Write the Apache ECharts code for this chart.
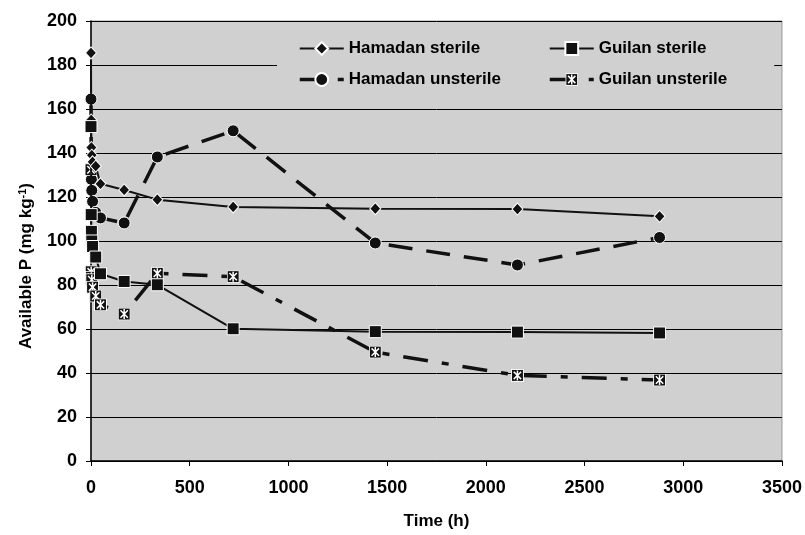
<!DOCTYPE html>
<html>
<head>
<meta charset="utf-8">
<script src="https://cdn.jsdelivr.net/npm/echarts@6/dist/echarts.min.js"></script>
<style>
  html, body { margin: 0; padding: 0; background: #fff; }
  #main { width: 805px; height: 535px; }
</style>
</head>
<body>
<div id="main"></div>
<script>
var times = [0, 1, 2, 4, 8, 24, 48, 168, 336, 720, 1440, 2160, 2880];
var hamadanSterile = [185.5, 155, 142.5, 139, 136, 134, 126, 123.2, 118.8, 115.5, 114.7, 114.5, 111.2];
var hamadanUnsterile = [164.5, 133, 128, 123, 118, 113, 110.5, 108.2, 138.2, 150.1, 99.1, 89.1, 101.6];
var guilanSterile = [152, 112, 104.4, 100, 97.5, 92.7, 85.1, 81.6, 80.1, 60.1, 58.8, 58.6, 58.2];
var guilanUnsterile = [132.4, 86, 83.5, 82.4, 79, 75, 71, 66.8, 85.3, 83.8, 49.5, 38.9, 36.8];
var yTicks = { min: 0, max: 200, interval: 20 };
var xTicks = { min: 0, max: 3500, interval: 500 };

function pairs(ys) {
    return times.map(function (t, i) { return [t, ys[i]]; });
}

// square with a white asterisk, like the Excel marker
var starSvg = '<svg xmlns="http://www.w3.org/2000/svg" width="13" height="13" viewBox="0 0 13 13">' +
    '<rect x="0.5" y="0.5" width="12" height="12" fill="#111" stroke="#fff" stroke-width="1"/>' +
    '<path d="M2.8 2.8 L10.2 10.2 M10.2 2.8 L2.8 10.2 M6.5 1.5 L6.5 11.5" stroke="#fff" stroke-width="1.5"/>' +
    '</svg>';
var starSymbol = 'image://data:image/svg+xml;charset=utf-8,' + encodeURIComponent(starSvg);

var chart = echarts.init(document.getElementById('main'));
var font = 'Liberation Sans, Arial, sans-serif';
var lineColor = '#111';
var legendText = { fontSize: 17, fontWeight: 'bold', color: '#000', fontFamily: font };

var option = {
    backgroundColor: '#fff',
    animation: false,
    textStyle: { fontFamily: font },
    grid: {
        left: 91, right: 23, top: 21, bottom: 74,
        show: true,
        backgroundColor: '#d0d0d0',
        borderColor: '#9a9a9a',
        borderWidth: 1
    },
    legend: [
        {
            left: 277, top: 34,
            orient: 'vertical',
            data: ['Hamadan sterile', 'Hamadan unsterile'],
            itemWidth: 44, itemHeight: 16, itemGap: 14,
            lineStyle: { width: 'inherit' },
            backgroundColor: '#d0d0d0',
            padding: [6, 60, 8, 21],
            textStyle: legendText
        },
        {
            left: 520, top: 34,
            orient: 'vertical',
            data: ['Guilan sterile', 'Guilan unsterile'],
            itemWidth: 44, itemHeight: 16, itemGap: 14,
            lineStyle: { width: 'inherit' },
            backgroundColor: '#d0d0d0',
            padding: [6, 47, 8, 28],
            textStyle: legendText
        }
    ],
    xAxis: {
        type: 'value',
        min: xTicks.min, max: xTicks.max, interval: xTicks.interval,
        name: 'Time (h)',
        nameLocation: 'middle',
        nameGap: 52,
        nameTextStyle: { fontSize: 17, fontWeight: 'bold', color: '#000' },
        axisLine: { lineStyle: { color: '#000', width: 1.5 } },
        axisTick: { show: true, length: 5, lineStyle: { color: '#000' } },
        axisLabel: {
            fontSize: 18, fontWeight: 'bold', color: '#000', margin: 18,
            formatter: function (v) { return String(v); }
        },
        splitLine: { show: false }
    },
    yAxis: {
        type: 'value',
        min: yTicks.min, max: yTicks.max, interval: yTicks.interval,
        name: '{a|Available P (mg kg}{s|-1}{a|)}',
        nameLocation: 'middle',
        nameGap: 55,
        nameTextStyle: {
            padding: [0, 50, 0, 0],
            rich: {
                a: { fontSize: 17, fontWeight: 'bold', color: '#000', fontFamily: font },
                s: { fontSize: 11, fontWeight: 'bold', color: '#000', fontFamily: font, verticalAlign: 'top', padding: [0, 0, 8, 0] }
            }
        },
        axisLine: { show: true, lineStyle: { color: '#000', width: 1.5 } },
        axisTick: { show: true, length: 5, lineStyle: { color: '#000' } },
        axisLabel: { fontSize: 18, fontWeight: 'bold', color: '#000', margin: 14 },
        splitLine: { show: true, lineStyle: { color: '#000', width: 1 } }
    },
    series: [
        {
            name: 'Hamadan sterile',
            type: 'line',
            data: pairs(hamadanSterile),
            symbol: 'diamond',
            symbolSize: [11, 12],
            lineStyle: { color: lineColor, width: 2 },
            itemStyle: { color: lineColor, borderColor: '#fff', borderWidth: 1 },
            z: 4
        },
        {
            name: 'Guilan sterile',
            type: 'line',
            data: pairs(guilanSterile),
            symbol: 'rect',
            symbolSize: 12,
            lineStyle: { color: lineColor, width: 2 },
            itemStyle: { color: lineColor, borderColor: '#fff', borderWidth: 1 },
            z: 4
        },
        {
            name: 'Hamadan unsterile',
            type: 'line',
            data: pairs(hamadanUnsterile),
            symbol: 'circle',
            symbolSize: 12,
            lineStyle: { color: lineColor, width: 3.5, type: [24, 14] },
            itemStyle: { color: lineColor, borderColor: '#fff', borderWidth: 1 },
            z: 3
        },
        {
            name: 'Guilan unsterile',
            type: 'line',
            data: pairs(guilanUnsterile),
            symbol: starSymbol,
            symbolSize: 13,
            lineStyle: { color: lineColor, width: 3.5, type: [25, 14, 7, 14] },
            itemStyle: { color: lineColor },
            z: 3
        }
    ]
};

option && chart.setOption(option);
</script>
</body>
</html>
